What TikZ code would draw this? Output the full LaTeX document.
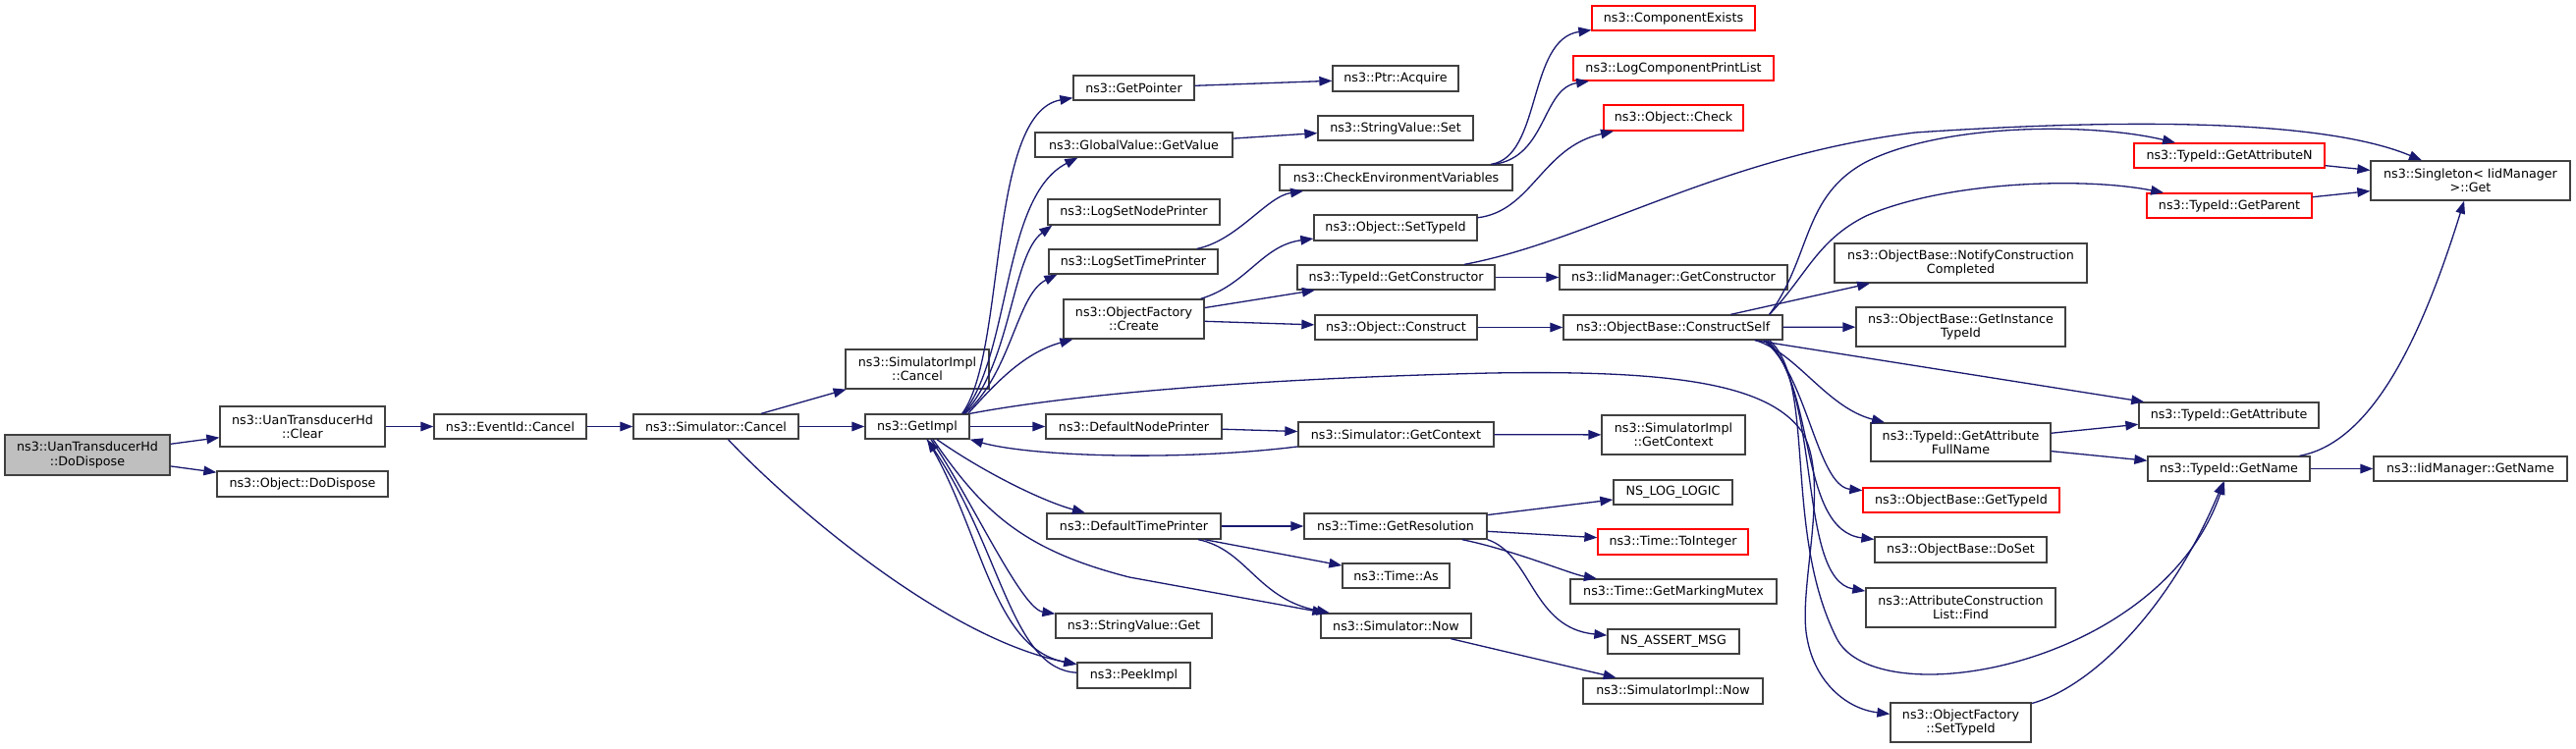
\documentclass[tikz,border=0pt]{standalone}
\usepackage{fontspec}
\setmainfont{DejaVu Sans}
\usetikzlibrary{arrows.meta}
\definecolor{edgeblue}{HTML}{191970}
\definecolor{boxgray}{HTML}{404040}
\definecolor{rootgray}{HTML}{BFBFBF}
\newcommand\nd[7]{\node[#1,minimum width=#5pt,minimum height=#6pt] (#2) at (#3,#4) {#7};}
\begin{document}
\begin{tikzpicture}[x=0.5pt,y=-0.5pt,
  nbox/.style={draw=boxgray,fill=white,line width=0.65pt,inner sep=0pt,align=center,font={\fontsize{6.35pt}{7.2pt}\selectfont}},
  rootbox/.style={nbox,fill=rootgray},
  redbox/.style={nbox,draw=red},
  calledge/.style={draw=edgeblue,line width=0.65pt,-{Triangle[length=6.5pt,width=4.8pt]}}]
\fill[white] (0,0) rectangle (2623,762);
\useasboundingbox (0,0) rectangle (2623,762);
% nodes
\nd{rootbox}{dodispose}{89}{463.5}{84}{20.5}{ns3::UanTransducerHd\\::DoDispose}
\nd{nbox}{clear}{308}{434.5}{84}{20.5}{ns3::UanTransducerHd\\::Clear}
\nd{nbox}{objdispose}{308}{493}{87}{13}{ns3::Object::DoDispose}
\nd{nbox}{eventcancel}{519.5}{434.5}{77.5}{12.5}{ns3::EventId::Cancel}
\nd{nbox}{simcancel}{729}{434.5}{84}{12.5}{ns3::Simulator::Cancel}
\nd{nbox}{simimplcancel}{934}{376}{73}{20}{ns3::SimulatorImpl\\::Cancel}
\nd{nbox}{getimpl}{934}{434.5}{53}{12.5}{ns3::GetImpl}
\nd{nbox}{getpointer}{1154.5}{89.5}{61.5}{12.5}{ns3::GetPointer}
\nd{nbox}{globalvalue}{1154.5}{147.5}{100.5}{12.5}{ns3::GlobalValue::GetValue}
\nd{nbox}{lognode}{1154.5}{216}{87.5}{13}{ns3::LogSetNodePrinter}
\nd{nbox}{logtime}{1154}{266.5}{86}{12.5}{ns3::LogSetTimePrinter}
\nd{nbox}{create}{1154.5}{325}{71.5}{20}{ns3::ObjectFactory\\::Create}
\nd{nbox}{defnode}{1154.5}{434.5}{89.5}{12.5}{ns3::DefaultNodePrinter}
\nd{nbox}{deftime}{1154.5}{536}{88.5}{13}{ns3::DefaultTimePrinter}
\nd{nbox}{strget}{1154.5}{637.5}{79.5}{12.5}{ns3::StringValue::Get}
\nd{nbox}{peekimpl}{1154.5}{688}{57.5}{13}{ns3::PeekImpl}
\nd{nbox}{ptracquire}{1421}{80}{64}{13}{ns3::Ptr::Acquire}
\nd{nbox}{strset}{1421}{130.5}{79}{12.5}{ns3::StringValue::Set}
\nd{nbox}{checkenv}{1421.5}{181}{118.5}{13}{ns3::CheckEnvironmentVariables}
\nd{nbox}{objsettypeid}{1421}{232}{83}{13}{ns3::Object::SetTypeId}
\nd{nbox}{getconstructor}{1421.5}{282.5}{100.5}{12.5}{ns3::TypeId::GetConstructor}
\nd{nbox}{objconstruct}{1421.5}{333.5}{82.5}{12.5}{ns3::Object::Construct}
\nd{nbox}{simgetcontext}{1421.5}{442.5}{99.5}{12.5}{ns3::Simulator::GetContext}
\nd{nbox}{getresolution}{1421}{536}{93}{13}{ns3::Time::GetResolution}
\nd{nbox}{timeas}{1421.5}{586.5}{54.5}{12.5}{ns3::Time::As}
\nd{nbox}{simnow}{1421.5}{637.5}{76.5}{12.5}{ns3::Simulator::Now}
\nd{redbox}{compexists}{1704}{18.5}{83}{12.5}{ns3::ComponentExists}
\nd{redbox}{logcomplist}{1704}{69.5}{102}{12.5}{ns3::LogComponentPrintList}
\nd{redbox}{objcheck}{1704}{120}{71}{13}{ns3::Object::Check}
\nd{nbox}{iidgetconstructor}{1704}{282.5}{116}{12.5}{ns3::IidManager::GetConstructor}
\nd{nbox}{constructself}{1703.5}{333.5}{111.5}{12.5}{ns3::ObjectBase::ConstructSelf}
\nd{nbox}{simimplgetcontext}{1704}{443}{73}{20}{ns3::SimulatorImpl\\::GetContext}
\nd{nbox}{nsloglogic}{1703.5}{501.5}{60.5}{12.5}{NS\_LOG\_LOGIC}
\nd{redbox}{tointeger}{1703.5}{552}{76.5}{13}{ns3::Time::ToInteger}
\nd{nbox}{markingmutex}{1704}{602.5}{105}{12.5}{ns3::Time::GetMarkingMutex}
\nd{nbox}{nsassert}{1704}{653.5}{67}{12.5}{NS\_ASSERT\_MSG}
\nd{nbox}{simimplnow}{1703.5}{704}{91.5}{13}{ns3::SimulatorImpl::Now}
\nd{nbox}{notifyconstruction}{1996.5}{268}{128.5}{20}{ns3::ObjectBase::NotifyConstruction\\Completed}
\nd{nbox}{getinstancetypeid}{1996.5}{333}{106.5}{20}{ns3::ObjectBase::GetInstance\\TypeId}
\nd{nbox}{getattrfullname}{1996.5}{450.5}{91.5}{19.5}{ns3::TypeId::GetAttribute\\FullName}
\nd{redbox}{objbasegettypeid}{1997}{509.5}{100}{12.5}{ns3::ObjectBase::GetTypeId}
\nd{nbox}{doset}{1996.5}{560}{87.5}{13}{ns3::ObjectBase::DoSet}
\nd{nbox}{attrconslistfind}{1996.5}{619}{96.5}{20}{ns3::AttributeConstruction\\List::Find}
\nd{nbox}{factorysettypeid}{1996.5}{736}{71.5}{20}{ns3::ObjectFactory\\::SetTypeId}
\nd{redbox}{getattributen}{2270}{158.5}{97}{12.5}{ns3::TypeId::GetAttributeN}
\nd{redbox}{getparent}{2270}{209.5}{84}{12.5}{ns3::TypeId::GetParent}
\nd{nbox}{getattribute}{2269.5}{423}{91.5}{13}{ns3::TypeId::GetAttribute}
\nd{nbox}{getname}{2269.5}{477.5}{82.5}{12.5}{ns3::TypeId::GetName}
\nd{nbox}{singleton}{2515.5}{184}{101.5}{20}{ns3::Singleton< IidManager\\>::Get}
\nd{nbox}{iidgetname}{2515.5}{477.5}{98.5}{12.5}{ns3::IidManager::GetName}
% edges
\draw[calledge] (dodispose) -- (clear);
\draw[calledge] (dodispose) -- (objdispose);
\draw[calledge] (clear) -- (eventcancel);
\draw[calledge] (eventcancel) -- (simcancel);
\draw[calledge] (simcancel) -- (simimplcancel);
\draw[calledge] (simcancel) -- (getimpl);
\draw[calledge] (simcancel) .. controls (800,510) and (960,650) .. (peekimpl);
\draw[calledge] ([xshift=-4pt]getimpl.north east) .. controls (1025,360) and (1005,115) .. ([yshift=1.5pt]getpointer.south west);
\draw[calledge] ([xshift=-3.5pt]getimpl.north east) .. controls (1030,360) and (1020,200) .. ([xshift=22pt]globalvalue.south west);
\draw[calledge] ([xshift=-3pt]getimpl.north east) .. controls (1030,370) and (1030,260) .. ([xshift=2.5pt]lognode.south west);
\draw[calledge] ([xshift=-2.5pt]getimpl.north east) .. controls (1030,380) and (1035,300) .. ([xshift=4.5pt]logtime.south west);
\draw[calledge] ([xshift=-1pt]getimpl.north east) .. controls (1010,395) and (1040,360) .. ([xshift=5pt]create.south west);
\draw[calledge] (getimpl.north east) .. controls (1100,400) and (1300,385) .. (1518,380) .. controls (1700,377) and (1800,390) .. (1835,440) .. controls (1865,490) and (1830,600) .. (1840,650) .. controls (1848,695) and (1880,722) .. (factorysettypeid);
\draw[calledge] (getimpl) -- (defnode);
\draw[calledge] ([xshift=10pt]getimpl.south) .. controls (1000,480) and (1060,510) .. (deftime);
\draw[calledge] ([xshift=7pt]getimpl.south) .. controls (990,510) and (1040,620) .. (strget);
\draw[calledge] ([xshift=5pt]getimpl.south) .. controls (1000,540) and (1010,660) .. (peekimpl);
\draw[calledge] (peekimpl) .. controls (1030,682) and (1020,560) .. ([xshift=5pt]getimpl.south);
\draw[calledge] ([xshift=8pt]getimpl.south) .. controls (1000,520) and (1040,560) .. (1150,588) -- (simnow);
\draw[calledge] (simgetcontext) .. controls (1200,470) and (1050,465) .. (getimpl.south east);
\draw[calledge] (defnode) -- (simgetcontext);
\draw[calledge] (simgetcontext) -- (simimplgetcontext);
\draw[calledge] (deftime) -- (getresolution);
\draw[calledge] (deftime) -- (timeas);
\draw[calledge] (deftime) .. controls (1270,560) and (1280,610) .. (simnow);
\draw[calledge] (getresolution) -- (nsloglogic);
\draw[calledge] (getresolution) -- (tointeger);
\draw[calledge] (getresolution) .. controls (1540,560) and (1600,585) .. (markingmutex);
\draw[calledge] (getresolution.south east) .. controls (1560,565) and (1560,640) .. (nsassert);
\draw[calledge] (simnow) -- (simimplnow);
\draw[calledge] (getpointer) -- (ptracquire);
\draw[calledge] (globalvalue) -- (strset);
\draw[calledge] (logtime) .. controls (1260,245) and (1290,200) .. (checkenv);
\draw[calledge] (checkenv) .. controls (1570,160) and (1555,40) .. (compexists);
\draw[calledge] (checkenv) .. controls (1575,160) and (1570,90) .. (logcomplist);
\draw[calledge] (create) .. controls (1270,290) and (1285,250) .. (objsettypeid);
\draw[calledge] (create) -- (getconstructor);
\draw[calledge] (create) -- (objconstruct);
\draw[calledge] (objsettypeid) .. controls (1560,215) and (1570,150) .. (objcheck);
\draw[calledge] (getconstructor) -- (iidgetconstructor);
\draw[calledge] (getconstructor) .. controls (1620,245) and (1750,160) .. (1950,135) .. controls (2100,125) and (2350,115) .. (singleton);
\draw[calledge] (objconstruct) -- (constructself);
\draw[calledge] (constructself) -- (notifyconstruction);
\draw[calledge] (constructself) -- (getinstancetypeid);
\draw[calledge] (constructself) -- (getattribute);
\draw[calledge] ([xshift=-14pt]constructself.south east) .. controls (1830,360) and (1860,415) .. (getattrfullname);
\draw[calledge] ([xshift=-10pt]constructself.south east) .. controls (1840,380) and (1850,495) .. (objbasegettypeid);
\draw[calledge] ([xshift=-9pt]constructself.south east) .. controls (1850,390) and (1830,540) .. (doset);
\draw[calledge] ([xshift=-8pt]constructself.south east) .. controls (1855,400) and (1830,590) .. (attrconslistfind);
\draw[calledge] ([xshift=-7pt]constructself.south east) .. controls (1850,390) and (1815,540) .. (1870,650) .. controls (1910,730) and (2200,680) .. (getname);
\draw[calledge] ([xshift=-7pt]constructself.north east) .. controls (1845,260) and (1835,200) .. (1900,165) .. controls (1980,125) and (2130,125) .. (getattributen);
\draw[calledge] ([xshift=-7pt]constructself.north east) .. controls (1840,280) and (1850,245) .. (1900,220) .. controls (1980,185) and (2120,180) .. (getparent);
\draw[calledge] (getattrfullname) -- (getattribute);
\draw[calledge] (getattrfullname) -- (getname);
\draw[calledge] (getname) -- (iidgetname);
\draw[calledge] (getname) .. controls (2420,450) and (2470,330) .. (singleton);
\draw[calledge] (getattributen) -- (singleton);
\draw[calledge] (getparent) -- (singleton);
\draw[calledge] (factorysettypeid) .. controls (2130,700) and (2210,620) .. (getname);
\end{tikzpicture}
\end{document}
